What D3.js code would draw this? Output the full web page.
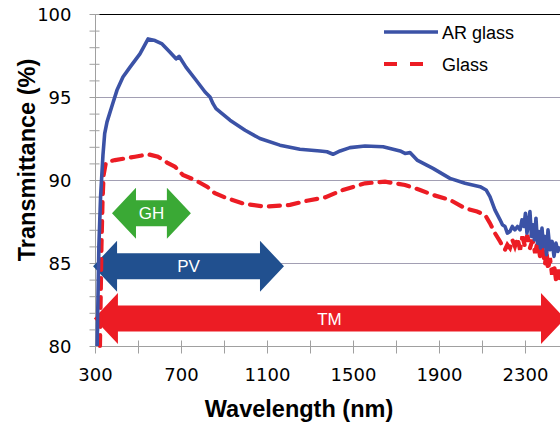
<!DOCTYPE html>
<html>
<head>
<meta charset="utf-8">
<script src="https://cdn.jsdelivr.net/npm/d3@7"></script>
<style>
  body { margin: 0; background: #fff; }
  svg { display: block; }
</style>
</head>
<body>
<script>
//transmittance data
var arWave = [310, 318, 326, 337, 345, 356, 380, 402, 430, 463, 509, 547, 579, 612, 649, 677, 691, 723, 765, 812, 835, 849, 863, 928, 998, 1067, 1160, 1253, 1347, 1379, 1407, 1440, 1486, 1556, 1640, 1719, 1742, 1765, 1798, 1872, 1951, 2021, 2091, 2119, 2137, 2160, 2184, 2195, 2207, 2218, 2230, 2241, 2253, 2265, 2277, 2286, 2295, 2302, 2309, 2316, 2323, 2330, 2337, 2344, 2351, 2358, 2365, 2372, 2379, 2386, 2393, 2400, 2407, 2416, 2426, 2435, 2444, 2453, 2463];
var arT = [80, 86, 89, 91.5, 92.8, 93.5, 94.5, 95.4, 96.2, 96.8, 97.6, 98.5, 98.4, 98.2, 97.7, 97.3, 97.45, 96.8, 96.1, 95.3, 95.0, 94.6, 94.3, 93.6, 93.0, 92.5, 92.1, 91.85, 91.75, 91.7, 91.55, 91.75, 91.95, 92.05, 92.0, 91.75, 91.6, 91.65, 91.2, 90.7, 90.1, 89.8, 89.6, 89.4, 89.0, 88.2, 87.6, 87.3, 87.2, 86.8, 86.9, 87.2, 87.0, 87.2, 87.0, 87.6, 87.2, 88.0, 86.8, 87.4, 88.1, 86.6, 87.3, 86.4, 87.7, 86.2, 86.9, 85.9, 87.1, 86.0, 86.6, 85.5, 87.0, 85.8, 86.3, 85.4, 86.2, 85.7, 86.0];

var glassWave = [323, 330, 335, 340, 350, 360, 393, 440, 486, 547, 593, 635, 672, 709, 765, 821, 858, 914, 998, 1091, 1207, 1286, 1370, 1453, 1556, 1649, 1742, 1812, 1872, 1951, 2021, 2077, 2114, 2137, 2160, 2184, 2195, 2207, 2218, 2230, 2241, 2253, 2265, 2277, 2288, 2300, 2311, 2323, 2335, 2347, 2358, 2370, 2381, 2393, 2400, 2407, 2416, 2426, 2435, 2444, 2453, 2463];
var glassT = [80, 86, 88.7, 90.3, 91.0, 91.1, 91.2, 91.3, 91.4, 91.55, 91.4, 91.05, 90.8, 90.3, 90.0, 89.6, 89.2, 88.9, 88.55, 88.4, 88.5, 88.75, 88.95, 89.4, 89.8, 89.9, 89.7, 89.4, 89.1, 88.8, 88.3, 88.1, 87.9, 87.4, 86.8, 86.3, 86.0, 85.8, 86.1, 85.9, 86.4, 86.0, 86.5, 85.8, 86.6, 86.0, 86.7, 85.9, 86.4, 85.6, 86.3, 85.4, 85.9, 84.9, 85.8, 84.6, 85.3, 84.3, 84.9, 84.0, 84.6, 83.8];

//spectral range arrows
var bandNames = ["GH", "PV", "TM"];
var bandFrom = [379, 291, 295];
var bandTo = [746, 1179, 2486];
var bandLevel = [88.0, 84.8, 81.65];

var xTicks = [300, 500, 700, 900, 1100, 1300, 1500, 1700, 1900, 2100, 2300, 2500];
var xLabels = [300, 700, 1100, 1500, 1900, 2300];
var yLabels = [80, 85, 90, 95, 100];

var seriesNames = ["AR glass", "Glass"];

var width = 560,
    height = 428;

var bandColors = {GH: "#3aa935", PV: "#21508f", TM: "#ec1c24"};
var lineColors = {"AR glass": "#3b52a6", "Glass": "#ec1c24"};

var svg = d3.select("body")
    .append("svg")
    .attr("width", width)
    .attr("height", height);

var x = d3.scaleLinear().domain([300, 2500]).range([95, 568]);
var y = d3.scaleLinear().domain([80, 100]).range([346, 14]);

//gridlines
svg.append("g")
    .selectAll("line")
    .data(yLabels.filter(function(d){ return d > 80 && d < 100; }))
    .enter()
    .append("line")
    .attr("x1", 95)
    .attr("x2", width)
    .attr("y1", function(d){ return y(d) + 0.5; })
    .attr("y2", function(d){ return y(d) + 0.5; })
    .attr("stroke", "#a29fb3")
    .attr("stroke-width", 1);

//top border
svg.append("line")
    .attr("x1", 97).attr("x2", width)
    .attr("y1", y(100) + 0.5).attr("y2", y(100) + 0.5)
    .attr("stroke", "#000").attr("stroke-width", 1.2);

//y axis with minor ticks
var yAxis = d3.axisLeft(y)
    .tickValues(d3.range(80, 101, 1))
    .tickSize(6)
    .tickFormat(function(d){ return yLabels.indexOf(d) >= 0 ? d : ""; });

var yg = svg.append("g")
    .attr("transform", "translate(95.5,0)")
    .call(yAxis);
yg.select(".domain").attr("stroke", "#a0a0a0").attr("d", "M0," + y(80) + "V" + y(100));
yg.selectAll(".tick line").attr("stroke", "#a0a0a0").attr("x1", 4);
yg.selectAll(".tick text")
    .attr("x", -24)
    .attr("dy", "0.36em")
    .attr("fill", "#000")
    .style("font-family", "DejaVu Sans, sans-serif")
    .style("font-size", "18px");

//x axis
var xAxis = d3.axisBottom(x)
    .tickValues(xTicks)
    .tickSize(7)
    .tickFormat(function(d){ return xLabels.indexOf(d) >= 0 ? d : ""; });

var xg = svg.append("g")
    .attr("transform", "translate(0," + (y(80) + 0.5) + ")")
    .call(xAxis);
xg.select(".domain").attr("stroke", "#a0a0a0").attr("d", "M95,0H" + width);
xg.selectAll(".tick line").attr("stroke", "#a0a0a0").attr("y1", -6);
xg.selectAll(".tick text")
    .attr("y", 34)
    .attr("dy", "0")
    .attr("fill", "#000")
    .style("font-family", "DejaVu Sans, sans-serif")
    .style("font-size", "18px");

//axis titles
svg.append("text")
    .attr("x", 299)
    .attr("y", 417)
    .attr("text-anchor", "middle")
    .style("font-family", "Liberation Sans, Arial, sans-serif")
    .style("font-weight", "bold")
    .style("font-size", "23.5px")
    .text("Wavelength (nm)");

svg.append("text")
    .attr("transform", "translate(35,160) rotate(-90)")
    .attr("text-anchor", "middle")
    .style("font-family", "Liberation Sans, Arial, sans-serif")
    .style("font-weight", "bold")
    .style("font-size", "23.5px")
    .text("Transmittance (%)");

//double headed arrows
var hl = 24, hh = 25.5, bh = 13;
function arrowPath(i){
    var x1 = x(bandFrom[i]), x2 = x(bandTo[i]), c = y(bandLevel[i]);
    return "M" + x1 + "," + c +
        "L" + (x1 + hl) + "," + (c - hh) +
        "L" + (x1 + hl) + "," + (c - bh) +
        "L" + (x2 - hl) + "," + (c - bh) +
        "L" + (x2 - hl) + "," + (c - hh) +
        "L" + x2 + "," + c +
        "L" + (x2 - hl) + "," + (c + hh) +
        "L" + (x2 - hl) + "," + (c + bh) +
        "L" + (x1 + hl) + "," + (c + bh) +
        "L" + (x1 + hl) + "," + (c + hh) + "Z";
}

var arrows = svg.append("g")
    .selectAll("g")
    .data(bandNames)
    .enter()
    .append("g");

arrows.append("path")
    .attr("d", function(d, i){ return arrowPath(i); })
    .attr("fill", function(d){ return bandColors[d]; });

arrows.append("text")
    .attr("x", function(d, i){ return (x(bandFrom[i]) + x(bandTo[i])) / 2; })
    .attr("y", function(d, i){ return y(bandLevel[i]); })
    .attr("dy", "0.35em")
    .attr("text-anchor", "middle")
    .attr("fill", "#fff")
    .style("font-family", "Liberation Sans, Arial, sans-serif")
    .style("font-size", "17px")
    .text(function(d){ return d; });

//curves
var line = d3.line()
    .x(function(d){ return x(d[0]); })
    .y(function(d){ return y(d[1]); });

svg.append("path")
    .datum(glassWave.map(function(w, i){ return [w, glassT[i]]; }))
    .attr("d", line)
    .attr("fill", "none")
    .attr("stroke", lineColors["Glass"])
    .attr("stroke-width", 4.2)
    .attr("stroke-dasharray", "11,8")
    .attr("stroke-linecap", "round");

svg.append("path")
    .datum(arWave.map(function(w, i){ return [w, arT[i]]; }))
    .attr("d", line)
    .attr("fill", "none")
    .attr("stroke", lineColors["AR glass"])
    .attr("stroke-width", 3.6)
    .attr("stroke-linejoin", "round");

//legend
var legend = svg.append("g")
    .selectAll("g")
    .data(seriesNames)
    .enter()
    .append("g")
    .attr("transform", function(d, i){ return "translate(384," + (32 + i * 32) + ")"; });

legend.append("line")
    .attr("x1", 0)
    .attr("x2", function(d, i){ return i == 0 ? 54 : 42; })
    .attr("stroke", function(d){ return lineColors[d]; })
    .attr("stroke-width", function(d, i){ return i == 0 ? 3.6 : 4.2; })
    .attr("stroke-dasharray", function(d, i){ return i == 0 ? null : "13,13"; });

legend.append("text")
    .attr("x", 58)
    .attr("y", 6.5)
    .style("font-family", "Liberation Sans, Arial, sans-serif")
    .style("font-size", "18px")
    .text(function(d){ return d; });
</script>
</body>
</html>
